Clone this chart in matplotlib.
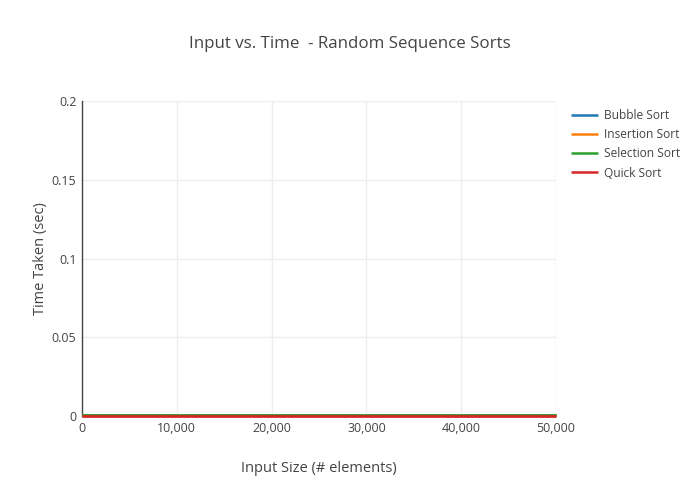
import numpy as np
import matplotlib.pyplot as plt

plt.rcParams['font.family'] = ['Open Sans', 'DejaVu Sans']

# input sizes and measured times (all essentially zero at this scale)
sizes = [0, 10000, 20000, 30000, 40000, 50000]
bubble = [0.0005, 0.0005, 0.0005, 0.0005, 0.0005, 0.0005]
insertion = [0.0005, 0.0005, 0.0005, 0.0005, 0.0005, 0.0005]
selection = [0.0005, 0.0005, 0.0005, 0.0005, 0.0005, 0.0005]
quick = [0.0003, 0.0003, 0.0003, 0.0003, 0.0003, 0.0003]

names = ['Bubble Sort', 'Insertion Sort', 'Selection Sort', 'Quick Sort']
colors = ['#1f77b4', '#ff7f0e', '#2ca02c', '#d62728']
yticks = [0, 0.05, 0.1, 0.15, 0.2]
ytick_labels = ['0', '0.05', '0.1', '0.15', '0.2']
xticks = [0, 10000, 20000, 30000, 40000, 50000]

fig = plt.figure(figsize=(7, 5), dpi=100)
ax = fig.add_axes([82/700, 1-416/500, (556-82)/700, (416-101)/500])

for i, (vals, name, c) in enumerate(zip([bubble, insertion, selection, quick], names, colors)):
    ax.plot(sizes, vals, color=c, lw=2, label=name, solid_capstyle='butt',
            clip_on=False, zorder=3 + i)

ax.set_xlim(0, 50000)
ax.set_ylim(0, 0.2)
ax.set_xticks(xticks)
ax.set_xticklabels(['{:,}'.format(x) for x in xticks])
ax.set_yticks(yticks)
ax.set_yticklabels(ytick_labels)
ax.grid(True, color='#eeeeee', lw=1)
ax.set_axisbelow(True)
for s in ['top', 'right', 'bottom']:
    ax.spines[s].set_visible(False)
ax.spines['left'].set_color('#444444')
ax.spines['left'].set_linewidth(1)
ax.tick_params(axis='both', colors='#444444', labelsize=9, length=0, pad=4)

ax.set_xlabel('Input Size (# elements)', fontsize=10.5, color='#444444', labelpad=19)
ax.set_ylabel('Time Taken (sec)', fontsize=10.5, color='#444444', labelpad=3)
fig.text(350/700, 1-44/500, 'Input vs. Time  - Random Sequence Sorts', ha='center', va='center',
         fontsize=12.2, color='#444444')

leg = ax.legend(loc='upper left', bbox_to_anchor=(1.008, 1.009), frameon=False, fontsize=8.6,
                handlelength=2.3, labelspacing=0.52, handletextpad=0.5, labelcolor='#444444')
for h in leg.get_lines():
    h.set_linewidth(1.8)

fig.savefig('out.png', dpi=100)
